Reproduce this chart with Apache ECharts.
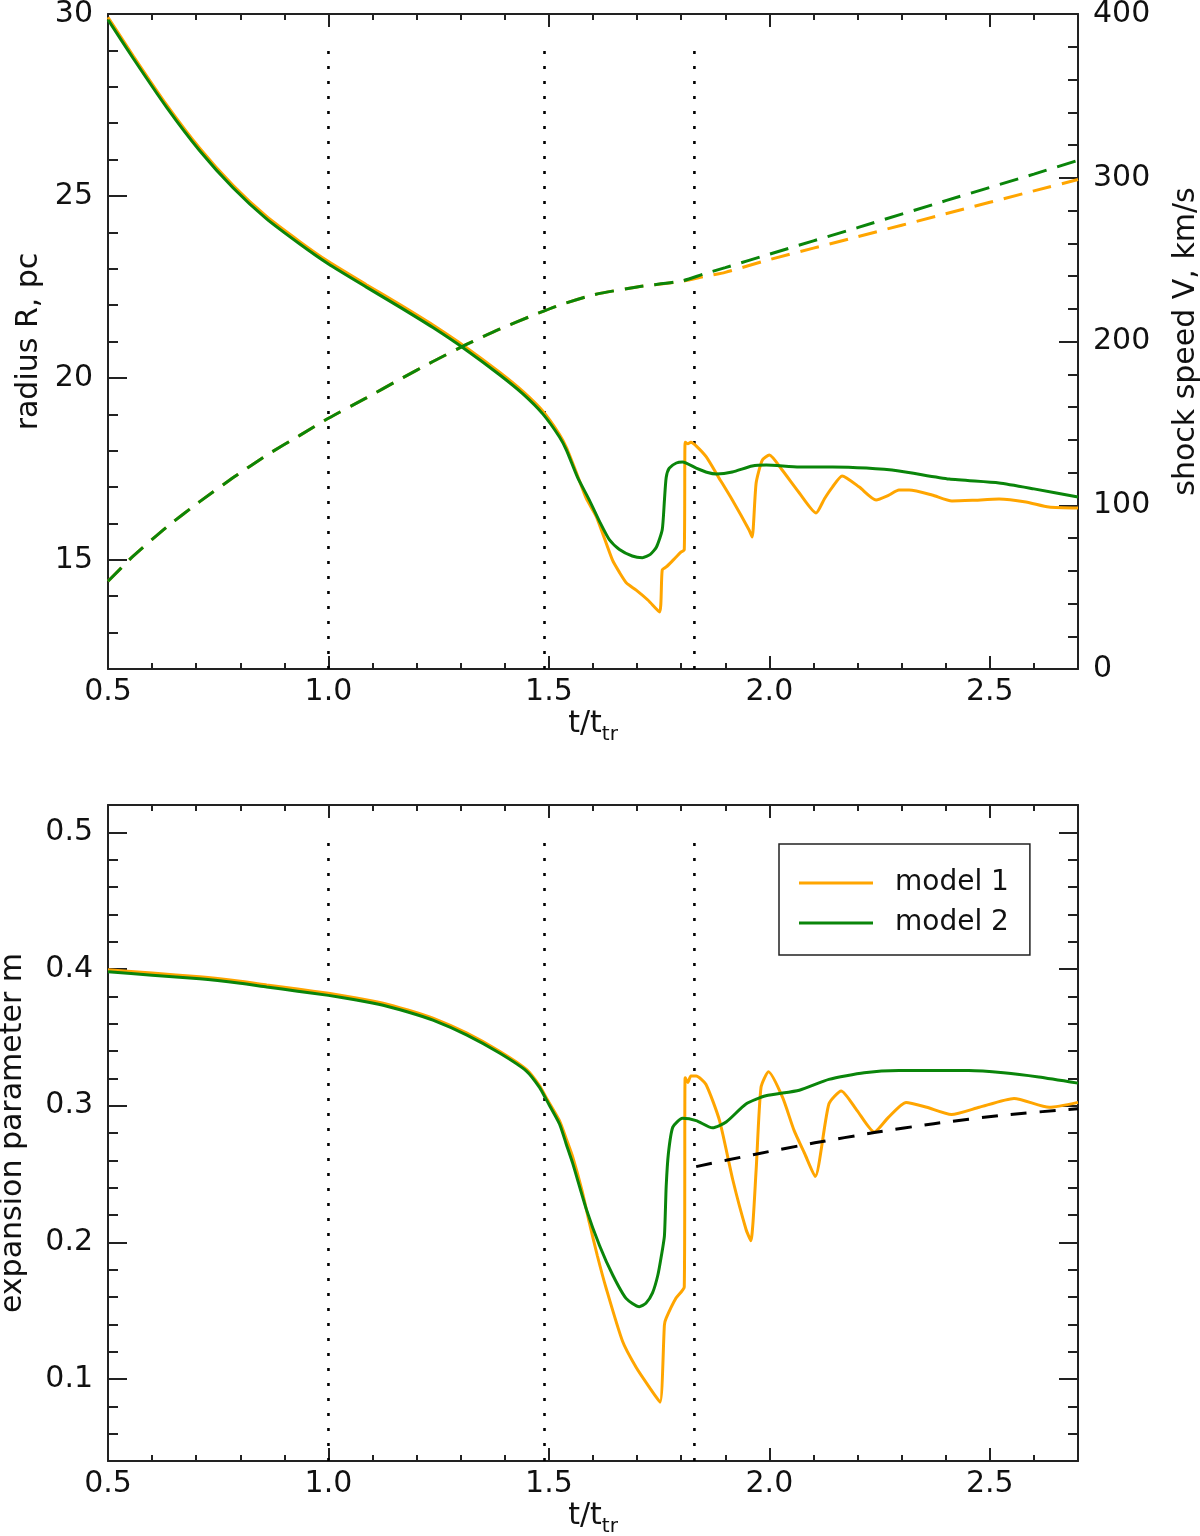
<!DOCTYPE html>
<html>
<head>
<meta charset="utf-8">
<script src="https://cdn.jsdelivr.net/npm/echarts@6/dist/echarts.min.js"></script>
<style>
html,body{margin:0;padding:0;background:#fff;}
#chart{width:1200px;height:1536px;}
</style>
</head>
<body>
<div id="chart"></div>
<script>
// ---------- data ----------
const xTicks = [0.5, 1.0, 1.5, 2.0, 2.5];
const radiusTicks = [15, 20, 25, 30];
const speedTicks = [0, 100, 200, 300, 400];
const mTicks = [0.1, 0.2, 0.3, 0.4, 0.5];
const dividerTimes = [1.0, 1.49, 1.83];

// top panel: shock radius R (pc), dashed, left axis
const radiusT  = [0.5,0.557,0.633,0.708,0.784,0.859,0.935,1.0,1.086,1.162,1.237,1.313,1.388,1.464,1.524,1.6,1.7,1.8,1.85,1.9,2.0,2.2,2.4,2.6,2.7];
const radius1  = [14.41,15.1,15.9,16.6,17.26,17.87,18.42,18.89,19.45,19.96,20.45,20.92,21.34,21.72,22.0,22.28,22.5,22.65,22.78,22.9,23.25,23.88,24.51,25.14,25.45];
const radius2  = [14.41,15.1,15.9,16.6,17.26,17.87,18.42,18.89,19.45,19.96,20.45,20.92,21.34,21.72,22.0,22.28,22.5,22.66,22.85,23.03,23.4,24.13,24.87,25.6,25.98];

// top panel: shock speed V (km/s), solid, right axis
const speed1T = [0.5,0.557,0.633,0.708,0.784,0.859,0.935,1.0,1.086,1.162,1.237,1.313,1.388,1.441,1.486,1.524,1.54,1.565,1.585,1.608,1.644,1.66,1.676,1.698,1.725,1.751,1.757,1.766,1.78,1.8,1.807,1.809,1.815,1.822,1.835,1.857,1.885,1.916,1.954,1.961,1.970,1.984,2.0,2.029,2.068,2.106,2.125,2.143,2.165,2.204,2.242,2.27,2.294,2.317,2.369,2.414,2.46,2.521,2.582,2.634,2.7];
const speed1  = [398,374.5,344.5,318,295.2,276.5,261,248.8,234.7,222.5,210,196.2,181.2,169.5,157.5,143.2,135,118,104,92.8,66.6,59,52.5,48.2,42,34.8,60.5,62.3,66,71.5,72.7,138.5,137.5,138.5,136,129.5,117,103.2,84.9,80.6,113.6,127.6,130.7,121.5,107.5,95.3,104,111.1,117.9,111.1,103.2,106,109.3,109.3,106.3,102.6,103,103.8,102,98.9,98.3];
const speed2T = [0.5,0.557,0.633,0.708,0.784,0.859,0.935,1.0,1.086,1.162,1.237,1.313,1.388,1.441,1.486,1.524,1.54,1.565,1.592,1.615,1.637,1.66,1.689,1.712,1.73,1.744,1.757,1.762,1.766,1.773,1.789,1.803,1.834,1.86,1.88,1.916,1.961,1.993,2.068,2.143,2.22,2.294,2.408,2.521,2.6,2.7];
const speed2  = [396.5,373,343,316.5,293.7,275,259.5,247.3,233.2,221,208.5,194.7,179.7,168,155.8,141.7,133.5,117,103,90,79,73,69,68,70,74.5,85,103,117,122.7,125.8,126.4,122.7,120,119.1,120.3,124,124.6,123.4,123.4,122.7,120.9,116,113.6,110,105];

// bottom panel: expansion parameter m
const m1T = [0.5,0.6,0.708,0.8,0.86,0.93,1.0,1.06,1.124,1.18,1.237,1.313,1.388,1.449,1.479,1.494,1.524,1.539,1.554,1.575,1.592,1.61,1.63,1.667,1.698,1.728,1.752,1.762,1.766,1.788,1.807,1.809,1.815,1.822,1.834,1.856,1.887,1.917,1.947,1.958,1.970,1.981,1.998,2.03,2.056,2.08,2.104,2.135,2.163,2.199,2.238,2.27,2.31,2.357,2.413,2.476,2.555,2.635,2.7];
const m1  = [0.3995,0.397,0.3943,0.391,0.3883,0.3853,0.3822,0.379,0.375,0.37,0.364,0.3532,0.3398,0.3265,0.3145,0.3058,0.289,0.276,0.2625,0.238,0.214,0.19,0.1662,0.1276,0.1084,0.0939,0.0831,0.1397,0.1445,0.159,0.1674,0.3205,0.3169,0.3217,0.3217,0.3157,0.2891,0.2458,0.2096,0.2012,0.253,0.3132,0.3248,0.306,0.2819,0.265,0.2482,0.3012,0.3108,0.2964,0.2807,0.2915,0.3024,0.2988,0.2935,0.2988,0.3053,0.2988,0.3024];
const m2T = [0.5,0.6,0.708,0.8,0.86,0.93,1.0,1.06,1.124,1.18,1.237,1.313,1.388,1.449,1.479,1.494,1.524,1.539,1.554,1.585,1.615,1.645,1.675,1.705,1.72,1.735,1.747,1.755,1.762,1.766,1.771,1.781,1.803,1.834,1.871,1.902,1.947,1.992,2.068,2.135,2.215,2.294,2.452,2.531,2.611,2.7];
const m2  = [0.398,0.3955,0.3928,0.3895,0.3868,0.3838,0.3807,0.3775,0.3735,0.3685,0.3626,0.3518,0.3385,0.3253,0.3132,0.3044,0.2867,0.2722,0.2578,0.2241,0.1975,0.1759,0.159,0.1529,0.1554,0.163,0.1759,0.19,0.2048,0.241,0.265,0.2843,0.2908,0.2891,0.2838,0.288,0.3012,0.3072,0.3113,0.3192,0.3241,0.3257,0.3257,0.3241,0.321,0.3165];

// black dashed reference curve (bottom panel)
const fitT = [1.834,1.969,2.103,2.238,2.373,2.531,2.7];
const fitM = [0.2554,0.2645,0.2728,0.2803,0.2868,0.2931,0.2978];

// ---------- helpers ----------
const AX = '#222';
const FONT = 'DejaVu Sans';
const FS = 30;
const zip = (a, b) => a.map((v, i) => [v, b[i]]);

function xMajor(gi, pos, withLabel) {
  const o = {
    type: 'value', gridIndex: gi, position: pos, min: 0.5, max: 2.7,
    axisLine: {show: true, onZero: false, lineStyle: {color: AX, width: 2}},
    axisTick: {show: true, inside: true, length: 13, customValues: xTicks, lineStyle: {color: AX, width: 2}},
    axisLabel: {show: withLabel, customValues: xTicks, formatter: v => v.toFixed(1), margin: 8,
                fontSize: FS, color: '#111', fontFamily: FONT},
    splitLine: {show: false}
  };
  if (withLabel) {
    o.name = '{a|t/t}{b|tr}';
    o.nameLocation = 'middle';
    o.nameGap = 34;
    o.nameTextStyle = {fontFamily: FONT, color: '#111', rich: {
      a: {fontSize: FS, fontFamily: FONT, color: '#111', lineHeight: 42},
      b: {fontSize: 20, fontFamily: FONT, color: '#111', lineHeight: 20, verticalAlign: 'bottom'}
    }};
  }
  return o;
}
function xMinor(gi, pos) {
  return {
    type: 'value', gridIndex: gi, position: pos, min: 0.5, max: 2.7, interval: 0.1,
    axisLine: {show: false, onZero: false},
    axisTick: {show: true, inside: true, length: 6, lineStyle: {color: AX, width: 2}},
    axisLabel: {show: false}, splitLine: {show: false}
  };
}
function yMajor(gi, pos, min, max, ticks, fmt, withLabel, name, nameGap) {
  const o = {
    type: 'value', gridIndex: gi, position: pos, min: min, max: max,
    axisLine: {show: true, onZero: false, lineStyle: {color: AX, width: 2}},
    axisTick: {show: true, inside: true, length: 19, customValues: ticks, lineStyle: {color: AX, width: 2}},
    axisLabel: {show: withLabel, customValues: ticks, formatter: fmt, margin: 15,
                fontSize: FS, color: '#111', fontFamily: FONT},
    splitLine: {show: false}
  };
  if (name) {
    o.name = name; o.nameLocation = 'middle'; o.nameGap = nameGap; o.nameRotate = 90;
    o.nameTextStyle = {fontSize: FS, fontFamily: FONT, color: '#111'};
  }
  return o;
}
function yMinor(gi, pos, min, max, step) {
  return {
    type: 'value', gridIndex: gi, position: pos, min: min, max: max, interval: step,
    axisLine: {show: false, onZero: false},
    axisTick: {show: true, inside: true, length: 10, lineStyle: {color: AX, width: 2}},
    axisLabel: {show: false}, splitLine: {show: false}
  };
}
function lineSeries(name, xi, yi, data, color, width, type, z, smooth) {
  return {
    name: name, type: 'line', xAxisIndex: xi, yAxisIndex: yi, data: data,
    symbol: 'none', showSymbol: false, smooth: smooth || false, clip: true, z: z || 2,
    lineStyle: {color: color, width: width, type: type || 'solid'},
    itemStyle: {color: color}, emphasis: {disabled: true}
  };
}

const ORANGE = '#ffa500';
const GREEN = '#0a850a';
const SM = 0.2;

const series = [];
dividerTimes.forEach((t, i) => {
  series.push(lineSeries('div-top-' + i, 0, 0, [[t, 12], [t, 29.3]], '#000', 2.6, [3, 12], 1));
  series.push(lineSeries('div-bot-' + i, 4, 4, [[t, 0.04], [t, 0.5]], '#000', 2.6, [3, 12], 1));
});
series.push(lineSeries('R model 1', 0, 0, zip(radiusT, radius1), ORANGE, 3, [19, 11], 2, SM));
series.push(lineSeries('R model 2', 0, 0, zip(radiusT, radius2), GREEN, 3, [19, 11], 3, SM));
series.push(lineSeries('V model 1', 0, 2, zip(speed1T, speed1), ORANGE, 3, 'solid', 2, SM));
series.push(lineSeries('V model 2', 0, 2, zip(speed2T, speed2), GREEN, 3, 'solid', 3, SM));
series.push(lineSeries('fit', 4, 4, zip(fitT, fitM), '#000', 3, [16, 13], 4, SM));
series.push(lineSeries('model 1', 4, 4, zip(m1T, m1), ORANGE, 3, 'solid', 2, SM));
series.push(lineSeries('model 2', 4, 4, zip(m2T, m2), GREEN, 3, 'solid', 3, SM));

const option = {
  animation: false,
  backgroundColor: '#fff',
  textStyle: {fontFamily: FONT},
  grid: [
    {left: 108, right: 122, top: 14, height: 655, containLabel: false, outerBoundsMode: 'none'},
    {left: 108, right: 122, top: 805, height: 656, containLabel: false, outerBoundsMode: 'none'}
  ],
  xAxis: [
    xMajor(0, 'bottom', true), xMinor(0, 'bottom'), xMajor(0, 'top', false), xMinor(0, 'top'),
    xMajor(1, 'bottom', true), xMinor(1, 'bottom'), xMajor(1, 'top', false), xMinor(1, 'top')
  ],
  yAxis: [
    yMajor(0, 'left', 12, 30, radiusTicks, v => String(v), true, 'radius R, pc', 53),
    yMinor(0, 'left', 12, 30, 1),
    yMajor(0, 'right', 0, 400, speedTicks, v => String(v), true, 'shock speed V, km/s', 93),
    yMinor(0, 'right', 0, 400, 20),
    yMajor(1, 'left', 0.04, 0.52, mTicks, v => v.toFixed(1), true, 'expansion parameter m', 80),
    yMinor(1, 'left', 0.04, 0.52, 0.02),
    yMajor(1, 'right', 0.04, 0.52, mTicks, v => v.toFixed(1), false),
    yMinor(1, 'right', 0.04, 0.52, 0.02)
  ],
  legend: {
    data: [{name: 'model 1', icon: 'rect'}, {name: 'model 2', icon: 'rect'}],
    orient: 'vertical', left: 779, top: 844,
    padding: [25, 21, 18, 20], itemGap: 12, itemWidth: 74, itemHeight: 3,
    borderColor: '#222', borderWidth: 1.5, borderRadius: 0,
    selectedMode: false,
    textStyle: {fontSize: 28, fontFamily: FONT, color: '#111', lineHeight: 28, padding: [0, 0, 0, 17]}
  },
  series: series
};

const chart = echarts.init(document.getElementById('chart'), null, {renderer: 'canvas'});
chart.setOption(option);
</script>
</body>
</html>
